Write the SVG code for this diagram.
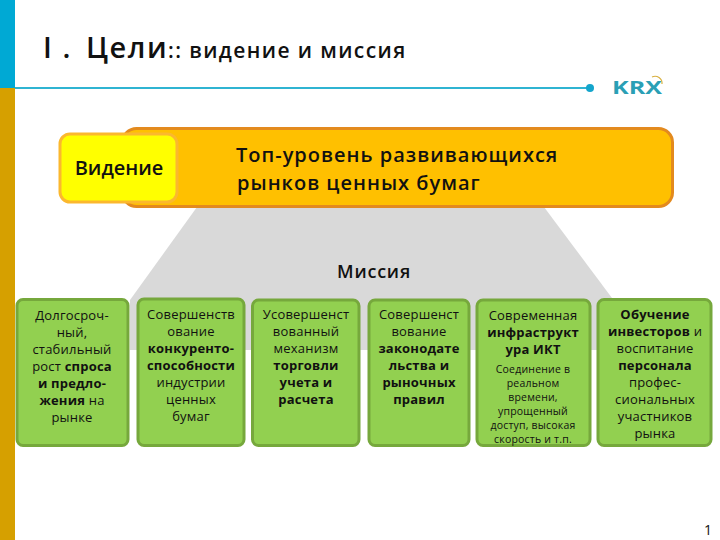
<svg xmlns="http://www.w3.org/2000/svg" width="720" height="540" viewBox="0 0 720 540">
<style>
text{font-family:"Open Sans","Noto Sans","DejaVu Sans",sans-serif;fill:#111}
.g{fill:#92d050;stroke:#76a83c;stroke-width:3}
.t{font-size:13px;text-anchor:middle;letter-spacing:.2px}
.b{font-weight:700}
.h{font-size:20px;font-weight:600;letter-spacing:1px}
.s{font-size:10.500px}
</style>
<rect width="720" height="540" fill="#fff"/>
<rect id="bar-top" width="15" height="88" fill="#00a9d4"/>
<rect id="bar-bottom" y="88" width="15" height="452" fill="#d6a000"/>
<g id="title">
<text x="43" y="58" font-size="29" font-weight="600" letter-spacing="1.500">I .<tspan x="86" letter-spacing="1.500">Цели</tspan><tspan x="168" font-size="21" letter-spacing="1.400">:: видение и миссия</tspan></text>
</g>
<g id="connectors">
<line x1="15" y1="88" x2="590" y2="88" stroke="#2fb4d2" stroke-width="2"/>
<circle cx="590" cy="88" r="4" fill="#14a5cc"/>
</g>
<g id="logo">
<text x="612" y="94" font-size="18" font-weight="700" textLength="50" lengthAdjust="spacingAndGlyphs" style="fill:#2a9fb5">KRX</text>
<path d="M652 77a7 7 0 0 1 10 7" fill="none" stroke="#d8b040" stroke-width="1.200"/>
</g>
<polygon id="mission-bg" points="197,207 544,207 612,298 612,350 130,350 130,300" fill="#d9d9d9"/>
<g id="vision-text">
<rect x="122.500" y="128.500" width="550" height="78" rx="14" fill="#ffc000" stroke="#e38a1e" stroke-width="3"/>
<text class="h" x="236" y="162">Топ-уровень развивающихся</text>
<text class="h" x="237" y="190">рынков ценных бумаг</text>
</g>
<g id="vision">
<rect x="60" y="134" width="117" height="68" rx="10" fill="#ffff00" stroke="#fbb82e" stroke-width="3"/>
<text x="119" y="175" font-size="20" font-weight="600" text-anchor="middle">Видение</text>
</g>
<text id="mission" x="374" y="278" font-size="18" font-weight="600" text-anchor="middle" letter-spacing=".8">Миссия</text>
<g id="n1">
<rect class="g" x="17" y="299.500" width="111" height="146" rx="6"/>
<text class="t" x="72" y="320">Долгосроч-</text>
<text class="t" x="72" y="337">ный,</text>
<text class="t" x="72" y="354">стабильный</text>
<text class="t" x="72" y="371">рост <tspan class="b">спроса</tspan></text>
<text class="t b" x="72" y="388">и предло-</text>
<text class="t" x="72" y="405"><tspan class="b">жения</tspan> на</text>
<text class="t" x="72" y="422">рынке</text>
</g>
<g id="n2">
<rect class="g" x="138" y="299" width="106" height="146.500" rx="6"/>
<text class="t" x="191" y="319">Совершенств</text>
<text class="t" x="191" y="336">ование</text>
<text class="t b" x="191" y="353">конкуренто-</text>
<text class="t b" x="191" y="370">способности</text>
<text class="t" x="191" y="387">индустрии</text>
<text class="t" x="191" y="404">ценных</text>
<text class="t" x="191" y="421">бумаг</text>
</g>
<g id="n3">
<rect class="g" x="252.500" y="300" width="106.500" height="145.500" rx="6"/>
<text class="t" x="306" y="319">Усовершенст</text>
<text class="t" x="306" y="336">вованный</text>
<text class="t" x="306" y="353">механизм</text>
<text class="t b" x="306" y="370">торговли</text>
<text class="t b" x="306" y="387">учета и</text>
<text class="t b" x="306" y="404">расчета</text>
</g>
<g id="n4">
<rect class="g" x="369" y="300" width="100" height="145.500" rx="6"/>
<text class="t" x="419" y="319">Совершенст</text>
<text class="t" x="419" y="336">вование</text>
<text class="t b" x="419" y="353">законодате</text>
<text class="t b" x="419" y="370">льства и</text>
<text class="t b" x="419" y="387">рыночных</text>
<text class="t b" x="419" y="404">правил</text>
</g>
<g id="n5">
<rect class="g" x="477" y="300" width="113" height="145.500" rx="6"/>
<text class="t" x="533" y="320">Современная</text>
<text class="t b" x="533" y="337">инфраструкт</text>
<text class="t b" x="533" y="354">ура ИКТ</text>
<text class="t s" x="533" y="373">Соединение в</text>
<text class="t s" x="533" y="387">реальном</text>
<text class="t s" x="533" y="401">времени,</text>
<text class="t s" x="533" y="415">упрощенный</text>
<text class="t s" x="533" y="429">доступ, высокая</text>
<text class="t s" x="533" y="443">скорость и т.п.</text>
</g>
<g id="n6">
<rect class="g" x="598" y="299.500" width="113" height="146" rx="6"/>
<text class="t b" x="655" y="319">Обучение</text>
<text class="t" x="655" y="336"><tspan class="b">инвесторов</tspan> и</text>
<text class="t" x="655" y="353">воспитание</text>
<text class="t b" x="655" y="370">персонала</text>
<text class="t" x="655" y="387">профес-</text>
<text class="t" x="655" y="404">сиональных</text>
<text class="t" x="655" y="421">участников</text>
<text class="t" x="655" y="438">рынка</text>
</g>
<text id="page" x="704" y="535" font-size="14">1</text>
</svg>
